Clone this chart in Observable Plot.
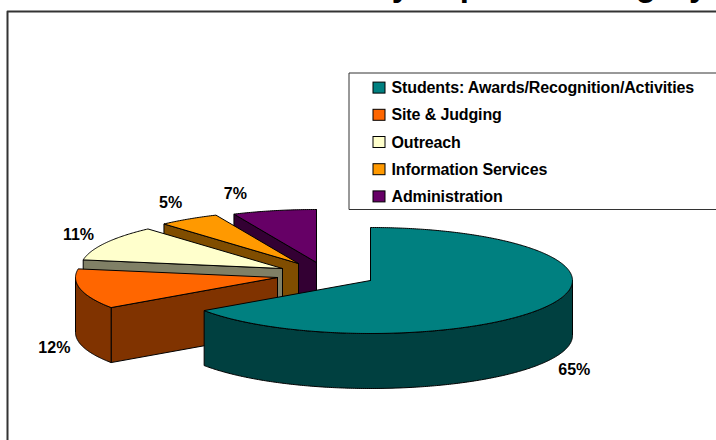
<!DOCTYPE html>
<html>
<head>
<meta charset="utf-8">
<style>html,body{margin:0;padding:0;background:#fff;overflow:hidden}svg{display:block}.legend-text text{letter-spacing:-0.13px}</style>
<script src="https://cdn.jsdelivr.net/npm/d3@7"></script>
<script src="https://cdn.jsdelivr.net/npm/@observablehq/plot@0.6"></script>
</head>
<body>
<div id="chart"></div>
<script>
// Data
const categories = ["Students: Awards/Recognition/Activities", "Site & Judging", "Outreach", "Information Services", "Administration"];
const shares = [65.4, 12.2, 10.8, 4.9, 6.7];
const titleText = "by Expense Category";
// Styles
const topColors = ["#008080", "#ff6600", "#ffffcc", "#ff9900", "#660066"];
const wallColors = ["#004040", "#803300", "#808066", "#804d00", "#330033"];
// Layout of the exploded 3D pie
const rx = 202, ry = 53, depth = 55;
const apexX = [370, 277, 282, 298, 316];
const apexY = [280, 277, 268, 263, 262];
const labelDX = [25, -26, -27, -18, -39];
const labelDY = [10, 4, -8, -16, -17];
const labelDepth = [1, 1, 0, 0, 0];

const faces = [];
let id = 0;
function addFace(pts, fill) {
  const k = id++;
  pts.forEach(([x, y]) => faces.push({id: k, x, y, fill}));
}
let cum = 0;
const slices = shares.map((v, i) => {
  const t0 = cum / 100 * 2 * Math.PI;
  cum += v;
  return {i, t0, t1: cum / 100 * 2 * Math.PI};
});
const rim = (s, t) => [apexX[s.i] + rx * Math.sin(t), apexY[s.i] - ry * Math.cos(t)];
function arc(s, a, b) {
  const n = Math.max(2, Math.ceil(Math.abs(b - a) / 0.01));
  return d3.range(n + 1).map(j => rim(s, a + (b - a) * j / n));
}
const down = ([x, y]) => [x, y + depth];

// Back to front: Administration, Information, Outreach, Site, Students
[4, 3, 2, 1, 0].forEach(i => {
  const s = slices[i];
  const apex = [apexX[i], apexY[i]];
  const eps = 1e-6;
  if (Math.sin(s.t0) < -eps) {
    const p = rim(s, s.t0);
    addFace([apex, p, down(p), down(apex), apex], wallColors[i]);
  }
  if (Math.sin(s.t1) > -eps) {
    const p = rim(s, s.t1);
    addFace([apex, p, down(p), down(apex), apex], wallColors[i]);
  }
  // Outer rim: only the part facing the viewer
  const a = Math.max(s.t0, Math.PI / 2), b = Math.min(s.t1, 3 * Math.PI / 2);
  if (b > a) {
    const upper = arc(s, a, b);
    const poly = upper.concat(upper.slice().reverse().map(down));
    poly.push(upper[0]);
    addFace(poly, wallColors[i]);
  }
  // Top
  addFace([apex, ...arc(s, s.t0, s.t1), apex], topColors[i]);
});

const labels = slices.map(s => {
  const mid = (s.t0 + s.t1) / 2;
  const [x, y] = rim(s, mid);
  return {
    x: x + labelDX[s.i],
    y: y + labelDepth[s.i] * depth + labelDY[s.i],
    text: `${Math.round(shares[s.i])}%`
  };
});

const font = "Liberation Sans, Arial, sans-serif";
const legendX = 373, legendTop = 87.6, legendStep = 27.2;
const legend = categories.map((name, i) => ({name, i, y: legendTop + i * legendStep}));

const plot = Plot.plot({
  width: 716,
  height: 440,
  margin: 0,
  x: {domain: [0, 716], range: [0, 716], axis: null},
  y: {domain: [0, 440], range: [0, 440], axis: null},
  color: {type: "identity"},
  style: {background: "#fff", fontFamily: font},
  marks: [
    Plot.text([titleText], {x: () => 539, y: () => -5, text: d => d, fontSize: 33, fontWeight: "bold", fill: "#000", lineAnchor: "bottom"}),
    Plot.line([[716, 11], [7, 11], [7, 440]], {x: d => d[0], y: d => d[1], stroke: "#333", strokeWidth: 2}),
    Plot.line(faces, {x: "x", y: "y", z: "id", fill: "fill", stroke: "#000", strokeWidth: 1, strokeLinejoin: "round"}),
    Plot.text(labels, {x: "x", y: "y", text: "text", fontSize: 16, fontWeight: "bold", fill: "#000"}),
    Plot.line([[718, 72.5], [348.5, 72.5], [348.5, 209], [718, 209]], {x: d => d[0], y: d => d[1], stroke: "#333", strokeWidth: 1}),
    Plot.rect(legend, {x1: () => legendX, x2: () => legendX + 12, y1: d => d.y - 5.5, y2: d => d.y + 5.5, fill: d => topColors[d.i], stroke: "#000", strokeWidth: 1}),
    Plot.text(legend, {x: () => legendX + 18, y: "y", text: "name", textAnchor: "start", fontSize: 16, fontWeight: "bold", fill: "#000", className: "legend-text"})
  ]
});
document.getElementById("chart").append(plot);
</script>
</body>
</html>
